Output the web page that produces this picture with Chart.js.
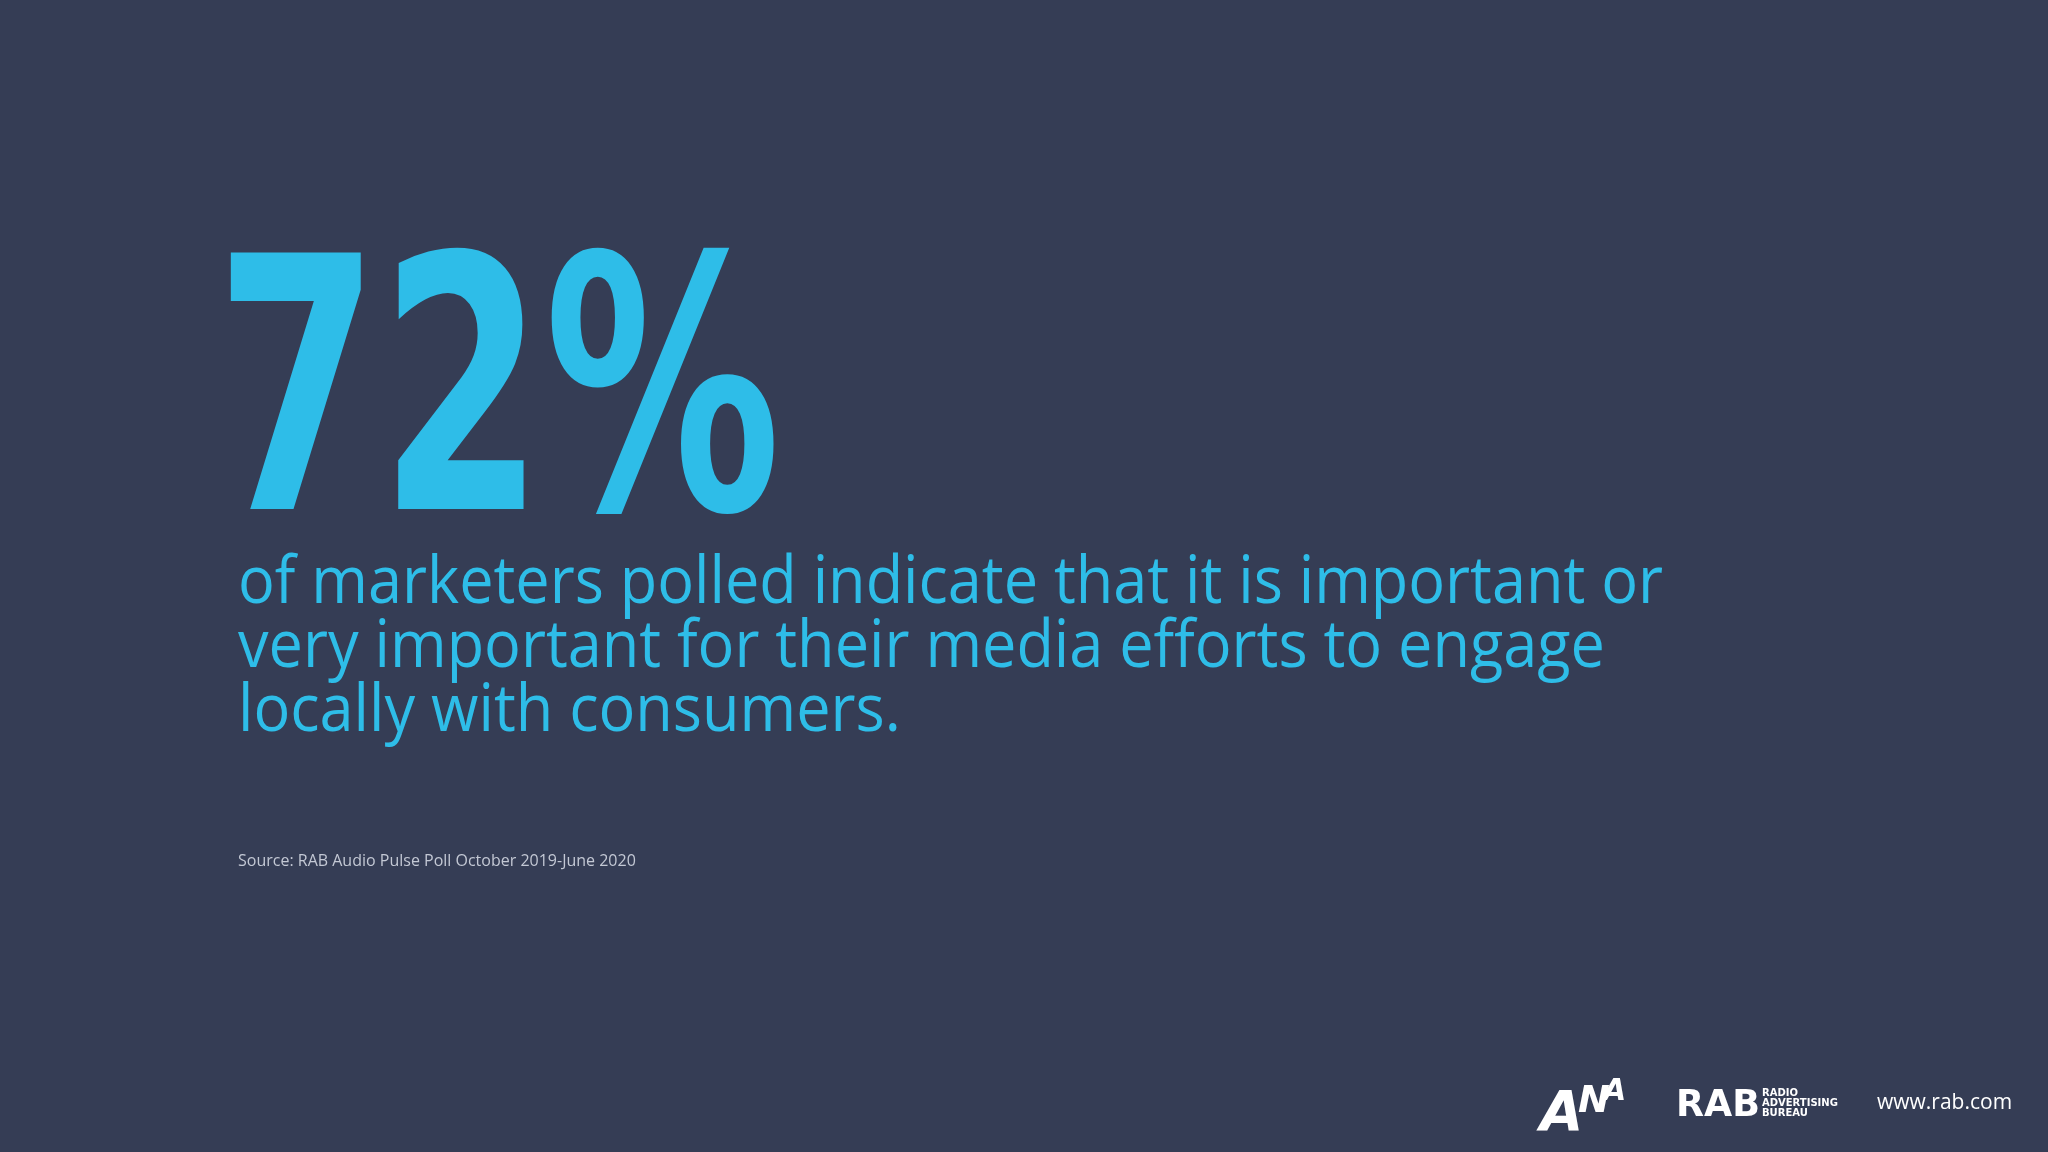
<!DOCTYPE html>
<html>
<head>
<meta charset="utf-8">
<script src="https://cdn.jsdelivr.net/npm/chart.js@4"></script>
<style>
  html, body { margin: 0; padding: 0; background: #353d55; }
  #wrap { width: 2048px; height: 1152px; position: relative; }
</style>
</head>
<body>
<div id="wrap"><canvas id="slide"></canvas></div>
<script>
// slide content
const statValues = [72];
const statSuffix = '%';
const bodyLines = [
    'of marketers polled indicate that it is important or',
    'very important for their media efforts to engage',
    'locally with consumers.'
];
const sourceText = 'Source: RAB Audio Pulse Poll October 2019-June 2020';
const footerText = 'www.rab.com';

const BLUE = '#2ebde8';

// draws the slide text on top of an empty chart area
const slidePlugin = {
    id: 'slideText',
    afterDraw(chart) {
        const ctx = chart.ctx;
        ctx.save();
        ctx.textBaseline = 'alphabetic';

        // big number, squeezed horizontally to match the heavy condensed face
        ctx.fillStyle = BLUE;
        ctx.font = '900 352px "DejaVu Sans"';
        const stat = statValues[0] + statSuffix;
        const w = ctx.measureText(stat).width;
        ctx.save();
        ctx.translate(215, 509);
        ctx.scale(566 / w, 1);
        ctx.fillText(stat, 0, 0);
        ctx.restore();

        // body copy
        ctx.font = '400 66px "Open Sans"';
        const w0 = ctx.measureText(bodyLines[0]).width;
        const sx = 1425 / w0;
        bodyLines.forEach((line, i) => {
            ctx.save();
            ctx.translate(238, 603 + i * 64);
            ctx.scale(sx, 1);
            ctx.fillText(line, 0, 0);
            ctx.restore();
        });

        // source
        ctx.fillStyle = '#c3c8d4';
        ctx.font = '16px "Open Sans"';
        ctx.fillText(sourceText, 238, 866);

        // footer logos
        ctx.fillStyle = '#ffffff';
        ctx.font = 'italic 900 56px "DejaVu Sans"';
        ctx.fillText('A', 1540, 1130);
        ctx.font = 'italic 900 38px "DejaVu Sans"';
        ctx.fillText('N', 1578, 1112);
        ctx.font = 'italic 900 30px "DejaVu Sans"';
        ctx.fillText('A', 1603, 1100);

        ctx.font = '900 38px "DejaVu Sans"';
        const rw = ctx.measureText('RAB').width;
        ctx.save();
        ctx.translate(1676, 1116);
        ctx.scale(84 / rw, 1);
        ctx.fillText('RAB', 0, 0);
        ctx.restore();
        ctx.font = 'bold 10px "DejaVu Sans"';
        ctx.fillText('RADIO', 1762, 1096);
        ctx.fillText('ADVERTISING', 1762, 1106);
        ctx.fillText('BUREAU', 1762, 1116);

        ctx.font = '21px "Open Sans"';
        ctx.fillText(footerText, 1877, 1109);
        ctx.restore();
    }
};

new Chart(document.getElementById('slide'), {
    type: 'bar',
    data: { labels: [''], datasets: [{ data: [], backgroundColor: 'transparent' }] },
    options: {
        responsive: true,
        maintainAspectRatio: false,
        animation: false,
        plugins: { legend: { display: false }, tooltip: { enabled: false } },
        scales: { x: { display: false }, y: { display: false } }
    },
    plugins: [slidePlugin]
});
</script>
</body>
</html>
